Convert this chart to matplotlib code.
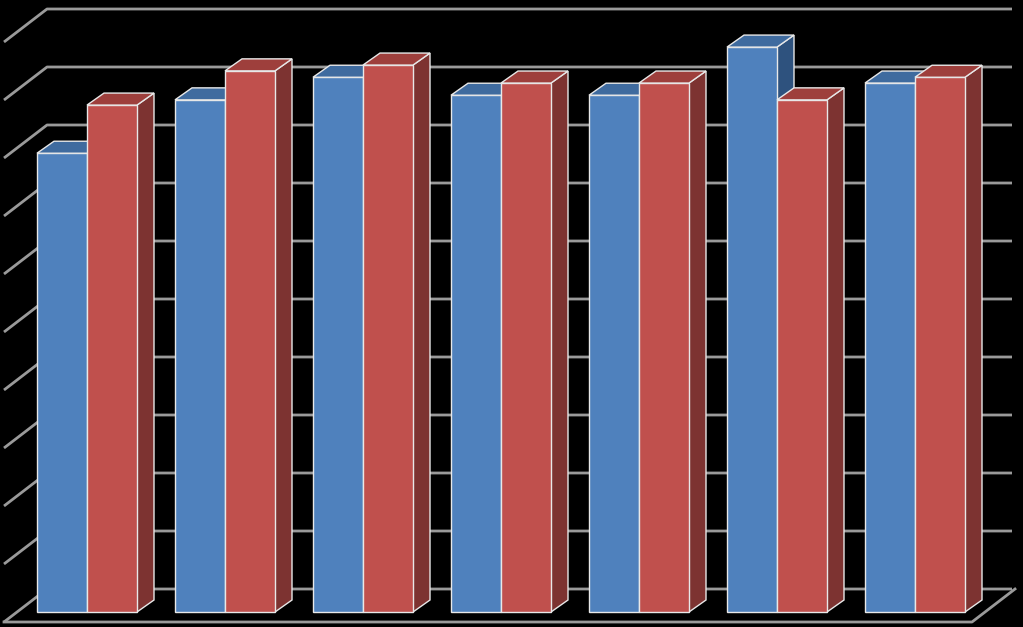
import matplotlib
matplotlib.use("Agg")
import matplotlib.pyplot as plt
from matplotlib.patches import Polygon

categories = ["1", "2", "3", "4", "5", "6", "7"]
series_a = [7.91, 8.83, 9.22, 8.91, 8.91, 9.74, 9.12]
series_b = [8.74, 9.33, 9.43, 9.12, 9.12, 8.83, 9.22]

fig = plt.figure(figsize=(10.23, 6.27), dpi=100, facecolor="black")
ax = fig.add_axes([0, 0, 1, 1])
ax.set_facecolor("black")
PX = 138.0  # pixels per category
PY = 58.0   # pixels per value unit
ax.set_xlim((0 - 87) / PX, (1023 - 87) / PX)
ax.set_ylim((612 - 627) / PY, 612 / PY)
ax.axis("off")

# wall depth
wdx, wdy = 43 / PX, 33 / PY
floor_v = (612 - 622) / PY
x_front_left = (4 - 87) / PX
x_front_right = (972 - 87) / PX
back_right = (1012 - 87) / PX
gc = "#9a9a9a"
for k in range(11):
    v = floor_v + k * 1.0
    ax.plot([x_front_left, x_front_left + wdx, back_right], [v, v + wdy, v + wdy],
            color=gc, lw=2, solid_capstyle="butt")
ax.plot([x_front_left, x_front_right, x_front_right + wdx], [floor_v, floor_v, floor_v + wdy],
        color=gc, lw=2)

w = 50 / PX
ddx, ddy = 17 / PX, 12 / PY
def bar3d(x0, h, front, top, side):
    ax.add_patch(Polygon([(x0, 0), (x0 + w, 0), (x0 + w, h), (x0, h)], closed=True,
                         fc=front, ec="#e8e8e8", lw=1, zorder=3))
    ax.add_patch(Polygon([(x0, h), (x0 + w, h), (x0 + w + ddx, h + ddy), (x0 + ddx, h + ddy)],
                         closed=True, fc=top, ec="#e8e8e8", lw=1, zorder=3))
    ax.add_patch(Polygon([(x0 + w, 0), (x0 + w + ddx, ddy), (x0 + w + ddx, h + ddy), (x0 + w, h)],
                         closed=True, fc=side, ec="#e8e8e8", lw=1, zorder=2))

for i in range(len(categories)):
    bar3d(i - w, series_a[i], "#4F81BD", "#3F6B9F", "#2E527E")
    bar3d(i, series_b[i], "#C0504D", "#9E3F3C", "#7D3331")

fig.savefig("out.png", dpi=100, facecolor="black")
